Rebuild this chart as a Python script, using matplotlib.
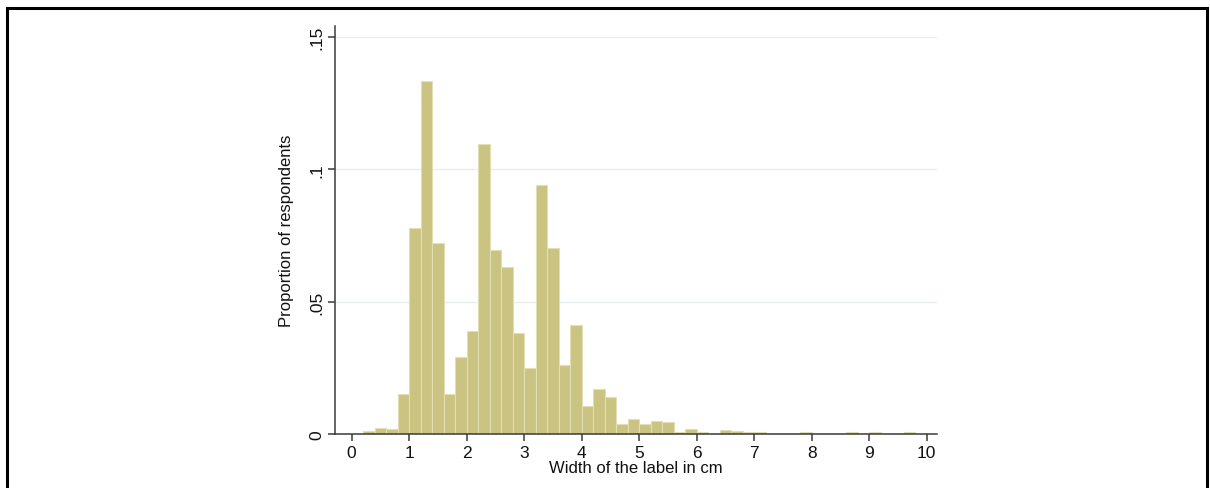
import matplotlib
matplotlib.use("Agg")
import matplotlib.pyplot as plt
from matplotlib.patches import Rectangle
import numpy as np

plt.rcParams['font.family'] = ['Liberation Sans', 'DejaVu Sans']

# histogram bins (width 0.2 cm), left edges and proportions
bin_width = 0.2
bin_left = np.round(np.arange(0.2, 9.61, 0.2), 1)
proportion = [
    0.0013, 0.0023, 0.0020, 0.0152, 0.0778, 0.1334, 0.0723, 0.0152,
    0.0292, 0.0388, 0.1097, 0.0695, 0.0630, 0.0380, 0.0248, 0.0940,
    0.0703, 0.0260, 0.0413, 0.0104, 0.0171, 0.0139, 0.0039, 0.0058,
    0.0038, 0.0050, 0.0045, 0.0009, 0.0019, 0.0007, 0.0, 0.0016,
    0.0012, 0.0009, 0.0007, 0.0, 0.0, 0.0, 0.0007, 0.0,
    0.0, 0.0, 0.0007, 0.0, 0.0007, 0.0, 0.0, 0.0007,
]
xticks = list(range(0, 11))
yticks = [0, 0.05, 0.10, 0.15]
ytick_labels = ["0", ".05", ".1", ".15"]

W, H = 1210, 489
fig = plt.figure(figsize=(W / 100, H / 100), dpi=100)
fig.patch.set_facecolor("white")

ax = fig.add_axes([335 / W, 1 - 435 / H, (937 - 335) / W, (435 - 27) / H])
ax.bar(bin_left, proportion, width=bin_width, align="edge",
       color="#cbc382", edgecolor="#e3dfb4", linewidth=0.8, zorder=2)

ax.set_xlim(-0.29, 10.18)
ax.set_ylim(0, 0.1542)
ax.set_xticks(xticks)
ax.set_yticks(yticks)
ax.set_yticklabels(ytick_labels, rotation=90, va="center")
ax.grid(axis="y", color="#e6eef0", linewidth=1.0, zorder=0)
ax.set_axisbelow(True)

for side in ("top", "right"):
    ax.spines[side].set_visible(False)
for side in ("left", "bottom"):
    ax.spines[side].set_color("#3a3a3a")
    ax.spines[side].set_linewidth(1.1)
ax.tick_params(axis="both", colors="#3a3a3a", labelcolor="#111111",
               length=5, width=1.1, labelsize=12.5, pad=3)

ax.set_xlabel("Width of the label in cm", fontsize=12, labelpad=0, color="#111111")
ax.set_ylabel("Proportion of respondents", fontsize=12, labelpad=11, color="#111111")

# frame around the figure (bottom edge cut off in the original)
fig.add_artist(Rectangle((7 / W, -0.2), (1207 - 7) / W, 1.2 - 9 / H,
                         transform=fig.transFigure, fill=False,
                         edgecolor="black", linewidth=2.2))

fig.savefig("out.png", dpi=100, facecolor="white")
